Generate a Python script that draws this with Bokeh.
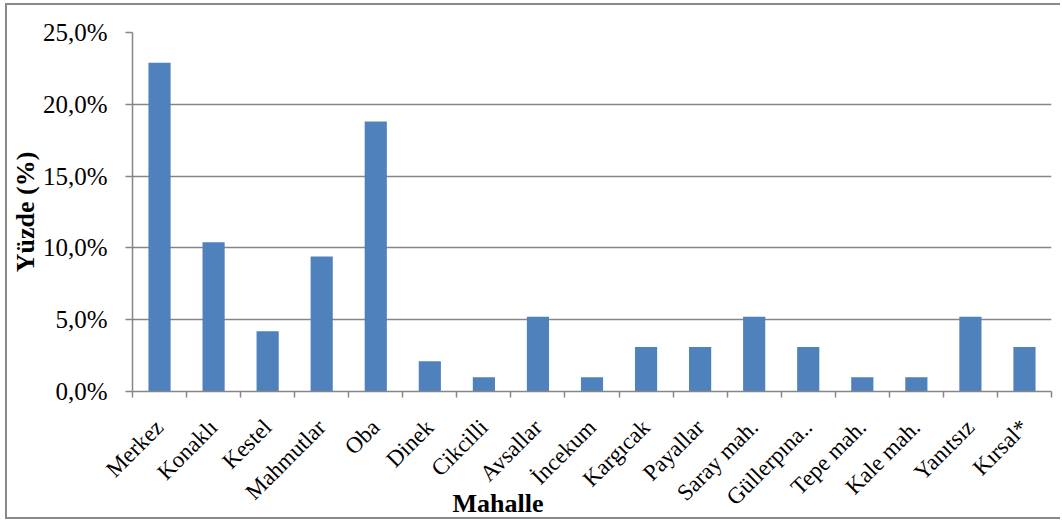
from bokeh.plotting import figure
from bokeh.models import FixedTicker, Range1d, Title, ColumnDataSource
from bokeh.embed import file_html
from bokeh.resources import INLINE
import math

categories = ["Merkez", "Konaklı", "Kestel", "Mahmutlar", "Oba", "Dinek", "Cikcilli",
              "Avsallar", "İncekum", "Kargıcak", "Payallar", "Saray mah.", "Güllerpına..",
              "Tepe mah.", "Kale mah.", "Yanıtsız", "Kırsal*"]
percent = [22.9, 10.4, 4.2, 9.4, 18.8, 2.1, 1.0, 5.2, 1.0, 3.1, 3.1, 5.2, 3.1, 1.0, 1.0, 5.2, 3.1]
y_ticks = [0, 5, 10, 15, 20, 25]
y_tick_labels = ["0,0%", "5,0%", "10,0%", "15,0%", "20,0%", "25,0%"]
x_title = "Mahalle"
y_title = "Yüzde (%)"

FONT = "Liberation Serif"
GRAY = "#868686"
BAR = "#4F81BD"

n = len(categories)
xs = list(range(n))
src = ColumnDataSource(dict(x=xs, top=percent, name=categories))

p = figure(width=1055, height=516, output_backend="svg", toolbar_location=None,
           x_range=Range1d(-0.5, n - 0.5), y_range=Range1d(0, 25),
           min_border_left=125, min_border_right=11, min_border_top=27, min_border_bottom=125)
p.styles = {"margin-left": "5px", "margin-top": "3px",
            "border-left": "2px solid #898989", "border-top": "2px solid #898989",
            "border-bottom": "2px solid #898989"}
p.outline_line_color = None
p.background_fill_color = "white"
p.border_fill_color = "white"

p.vbar(x="x", top="top", width=0.41, bottom=0, source=src, fill_color=BAR, line_color=None)

# x axis
xa = p.xaxis[0]
xa.ticker = FixedTicker(ticks=xs, minor_ticks=[i - 0.5 for i in range(n + 1)])
xa.major_label_overrides = {i: c for i, c in zip(xs, categories)}
xa.major_label_orientation = math.pi / 4
xa.major_tick_out = 0
xa.major_tick_in = 0
xa.minor_tick_out = 6
xa.minor_tick_in = 0
xa.minor_tick_line_color = GRAY
xa.minor_tick_line_width = 1.5
xa.axis_line_color = GRAY
xa.axis_line_width = 1.5
xa.major_label_text_font = FONT
xa.major_label_text_font_size = "23px"
xa.major_label_text_color = "black"
xa.major_label_standoff = 26

# y axis
ya = p.yaxis[0]
ya.ticker = FixedTicker(ticks=y_ticks)
ya.major_label_overrides = {t: l for t, l in zip(y_ticks, y_tick_labels)}
ya.major_tick_out = 7
ya.major_tick_in = 0
ya.major_tick_line_color = GRAY
ya.major_tick_line_width = 1.5
ya.minor_tick_line_color = None
ya.axis_line_color = GRAY
ya.axis_line_width = 1.5
ya.major_label_text_font = FONT
ya.major_label_text_font_size = "25px"
ya.major_label_text_color = "black"
ya.major_label_standoff = 18

p.xgrid.grid_line_color = None
p.ygrid.ticker = FixedTicker(ticks=y_ticks)
p.ygrid.grid_line_color = GRAY
p.ygrid.grid_line_width = 1.3

p.add_layout(Title(text=x_title, align="left", offset=320, standoff=-66,
                   vertical_align="top",
                   text_font=FONT, text_font_size="26px", text_font_style="bold",
                   text_color="black"), "below")
p.add_layout(Title(text=y_title, align="center", offset=0, standoff=0,
                   text_font=FONT, text_font_size="26px", text_font_style="bold",
                   text_color="black"), "left")

open("out.html", "w").write(file_html(p, INLINE))
